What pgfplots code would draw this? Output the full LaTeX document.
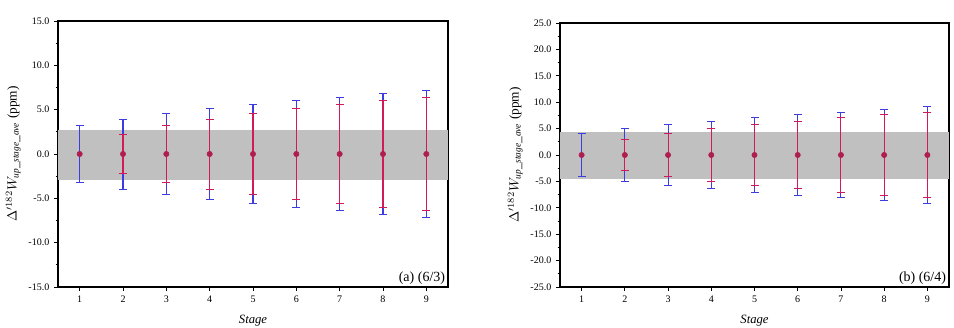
\documentclass[border=0pt]{standalone}
\usepackage{pgfplots}
\usepackage{pgfplotstable}
\pgfplotsset{compat=1.18}
\usepackage{fontspec}
\setmainfont{Liberation Serif}
\definecolor{eblue}{RGB}{60,60,225}
\definecolor{ered}{RGB}{210,25,90}
\definecolor{mred}{RGB}{175,30,80}
\definecolor{band}{RGB}{192,192,192}
% stage, blue +, blue -, red +, red -, mean
\pgfplotstableread{
s  bt    bb     rt    rb    m
1  3.25  -3.25  nan   nan   0
2  3.95  -3.95  2.25  -2.25 0
3  4.55  -4.55  3.25  -3.25 0
4  5.10  -5.10  3.95  -3.95 0
5  5.55  -5.55  4.55  -4.55 0
6  6.05  -6.05  5.10  -5.10 0
7  6.40  -6.40  5.55  -5.55 0
8  6.80  -6.80  6.00  -6.00 0
9  7.15  -7.15  6.40  -6.40 0
}\dataA
\pgfplotstableread{
s  bt    bb     rt    rb    m
1  4.10  -4.10  nan   nan   0
2  5.00  -5.00  2.95  -2.95 0
3  5.80  -5.80  4.10  -4.10 0
4  6.35  -6.35  5.00  -5.00 0
5  7.10  -7.10  5.80  -5.80 0
6  7.75  -7.75  6.35  -6.35 0
7  8.10  -8.10  7.10  -7.10 0
8  8.70  -8.70  7.75  -7.75 0
9  9.10  -9.10  8.10  -8.10 0
}\dataB
\pgfplotsset{
  myax/.style={
    scale only axis,
    anchor=south west,
    xmin=0.5, xmax=9.5,
    xtick={1,...,9},
    tick align=outside,
    xtick pos=bottom, ytick pos=left,
    major tick length=3pt, minor tick length=1.8pt,
    minor y tick num=1,
    axis line style={line width=0.9pt},
    every tick/.style={black, line width=0.6pt},
    /pgf/number format/assume math mode=true,
    yticklabel style={/pgf/number format/.cd, fixed, fixed zerofill, precision=1},
    tick label style={font=\fontsize{7.5}{9}\selectfont},
    xlabel={\textit{Stage}},
    xlabel style={font=\fontsize{9.5}{11}\selectfont, yshift=-3pt},
    ylabel style={font=\fontsize{10}{12}\selectfont, yshift=-1pt},
    ylabel={$\Delta'^{182}W_{\mathit{up\_stage\_ave}}$ (ppm)},
    clip=false,
    unbounded coords=discard,
  },
  bbar/.style={eblue, line width=0.8pt, ycomb, mark=-, mark size=3pt, mark options={line width=0.7pt, eblue}},
  rbar/.style={ered, line width=0.8pt, ycomb, mark=-, mark size=3pt, mark options={line width=0.7pt, ered}},
  mpt/.style={only marks, mark=*, mark size=2pt, mred},
}
\begin{document}
\begin{tikzpicture}
\useasboundingbox (0,0) rectangle (715.5pt,246pt);
\begin{axis}[myax,
  at={(43.5pt,30.75pt)}, width=292.5pt, height=199.5pt,
  ymin=-15, ymax=15, ytick={-15,-10,...,15},
]
\addplot[fill=band, draw=none] coordinates {(0.5,-2.9) (0.5,2.75) (9.5,2.75) (9.5,-2.9)} -- cycle;
\addplot[bbar] table[x=s, y=bt] {\dataA};
\addplot[bbar] table[x=s, y=bb] {\dataA};
\addplot[rbar] table[x=s, y=rt] {\dataA};
\addplot[rbar] table[x=s, y=rb] {\dataA};
\addplot[mpt] table[x=s, y=m] {\dataA};
\node[anchor=south east, inner sep=2pt, font=\fontsize{10.5}{12}\selectfont] at (rel axis cs:1,0) {(a) (6/3)};
\end{axis}
\begin{axis}[myax,
  at={(420pt,30.75pt)}, width=291.75pt, height=198pt,
  ymin=-25, ymax=25, ytick={-25,-20,...,25},
]
\addplot[fill=band, draw=none] coordinates {(0.5,-4.6) (0.5,4.4) (9.5,4.4) (9.5,-4.6)} -- cycle;
\addplot[bbar] table[x=s, y=bt] {\dataB};
\addplot[bbar] table[x=s, y=bb] {\dataB};
\addplot[rbar] table[x=s, y=rt] {\dataB};
\addplot[rbar] table[x=s, y=rb] {\dataB};
\addplot[mpt] table[x=s, y=m] {\dataB};
\node[anchor=south east, inner sep=2pt, font=\fontsize{10.5}{12}\selectfont] at (rel axis cs:1,0) {(b) (6/4)};
\end{axis}
\end{tikzpicture}
\end{document}
